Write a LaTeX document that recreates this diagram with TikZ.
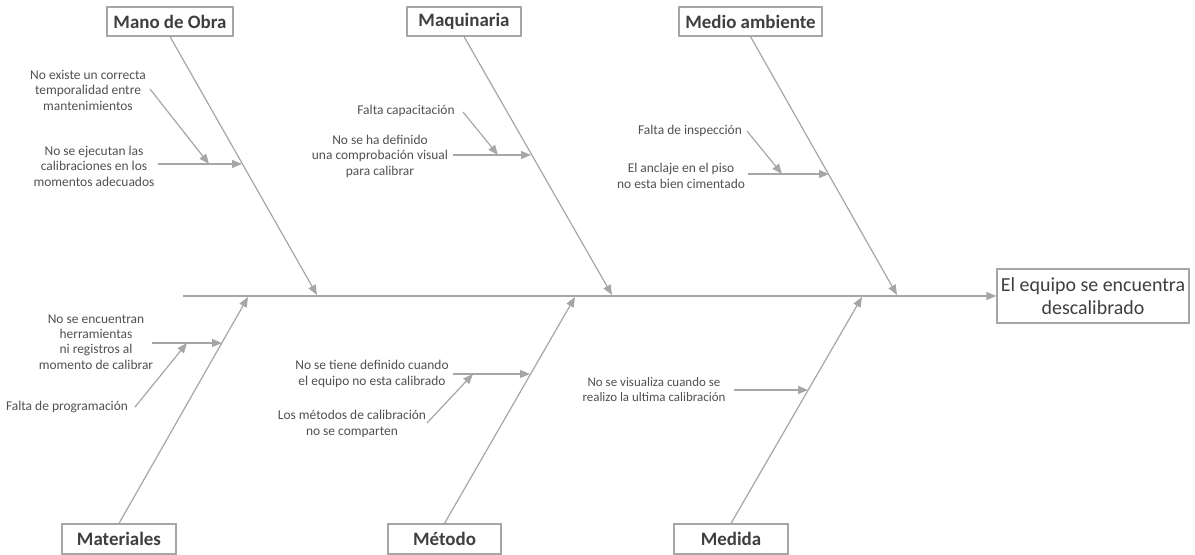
\documentclass[tikz,border=0pt]{standalone}
\usepackage{fontspec}
\setmainfont{Carlito}
\usetikzlibrary{arrows.meta}
\definecolor{bone}{HTML}{A6A6A6}
\definecolor{ink}{HTML}{505050}
\definecolor{headink}{HTML}{3F3F3F}
\tikzset{
  catbox/.style={draw=bone, line width=1.2bp, fill=white, inner sep=0pt,
    text=headink, font=\fontsize{19}{22}\selectfont\bfseries},
  effectbox/.style={catbox, font=\fontsize{20}{23}\selectfont, align=center},
  cause/.style={text=ink, align=center, inner sep=0pt,
    font=\fontsize{13.5}{15.5}\selectfont},
  plaincause/.style={cause, font=\fontsize{13}{15}\selectfont},
  arrowline/.style={draw=bone, line width=1.2bp,
    -{Triangle[length=10bp,width=8bp]}},
}
\begin{document}
\begin{tikzpicture}[x=1bp, y=-1bp]
\useasboundingbox (0,0) rectangle (1195,555);

% effect and spine
\node[effectbox, minimum width=192bp, minimum height=54bp] (effect) at (1093,296)
  {El equipo se encuentra\\descalibrado};
\coordinate (tail) at (183,296);
\draw[arrowline] (tail) -- (effect.west);

% category boxes
\node[catbox, minimum width=126bp, minimum height=29bp] (mano)  at (170,21.5)   {Mano de Obra};
\node[catbox, minimum width=114bp, minimum height=29bp] (maq)   at (464,21.5)   {Maquinaria};
\node[catbox, minimum width=143bp, minimum height=29bp] (medio) at (750.5,21.5) {Medio ambiente};
\node[catbox, minimum width=114bp, minimum height=30bp] (mat)   at (119,539)    {Materiales};
\node[catbox, minimum width=113bp, minimum height=30bp] (met)   at (444.5,539)  {Método};
\node[catbox, minimum width=114bp, minimum height=30bp] (med)   at (731,539)    {Medida};

% points where the main bones meet the spine
\coordinate (jMano)  at (317,295);
\coordinate (jMaq)   at (612,295);
\coordinate (jMedio) at (897,295);
\coordinate (jMat)   at (248,297);
\coordinate (jMet)   at (575,297);
\coordinate (jMed)   at (862,297);

\draw[arrowline] (mano.south)  -- (jMano);
\draw[arrowline] (maq.south)   -- (jMaq);
\draw[arrowline] (medio.south) -- (jMedio);
\draw[arrowline] (mat.north)   -- (jMat);
\draw[arrowline] (met.north)   -- (jMet);
\draw[arrowline] (med.north)   -- (jMed);

% Mano de Obra causes
\node[cause] (c1) at (88,90) {No existe un correcta\\temporalidad entre\\mantenimientos};
\node[cause] (c2) at (94,166) {No se ejecutan las\\calibraciones en los\\momentos adecuados};
\coordinate (c1s) at (150,89);  \coordinate (c1e) at (209,164);
\coordinate (c2s) at (158,164); \coordinate (c2e) at (242,164);
\draw[arrowline] (c1s) -- (c1e);
\draw[arrowline] (c2s) -- (c2e);

% Maquinaria causes
\node[cause] (c3) at (406,111) {Falta capacitación};
\node[cause] (c4) at (380,156) {No se ha definido\\una comprobación visual\\para calibrar};
\coordinate (c3s) at (463,112); \coordinate (c3e) at (498,155);
\coordinate (c4s) at (453,155); \coordinate (c4e) at (531,155);
\draw[arrowline] (c3s) -- (c3e);
\draw[arrowline] (c4s) -- (c4e);

% Medio ambiente causes
\node[cause] (c5) at (690,131) {Falta de inspección};
\node[cause] (c6) at (681,176) {El anclaje en el piso\\no esta bien cimentado};
\coordinate (c5s) at (747,131); \coordinate (c5e) at (782,174);
\coordinate (c6s) at (748,174); \coordinate (c6e) at (829,174);
\draw[arrowline] (c5s) -- (c5e);
\draw[arrowline] (c6s) -- (c6e);

% Materiales causes
\node[cause] (c7) at (96,342) {No se encuentran\\herramientas\\ni registros al\\momento de calibrar};
\node[cause] (c8) at (67,407) {Falta de programación};
\coordinate (c7s) at (152,343); \coordinate (c7e) at (222,343);
\coordinate (c8s) at (135,407); \coordinate (c8e) at (187,343);
\draw[arrowline] (c7s) -- (c7e);
\draw[arrowline] (c8s) -- (c8e);

% Método causes
\node[cause] (c9) at (372,374) {No se tiene definido cuando\\el equipo no esta calibrado};
\node[cause] (c10) at (352,424) {Los métodos de calibración\\no se comparten};
\coordinate (c9s) at (453,374);  \coordinate (c9e) at (530,374);
\coordinate (c10s) at (427,423); \coordinate (c10e) at (473,374);
\draw[arrowline] (c9s) -- (c9e);
\draw[arrowline] (c10s) -- (c10e);

% Medida cause
\node[plaincause] (c11) at (654,390) {No se visualiza cuando se\\realizo la ultima calibración};
\coordinate (c11s) at (734,390); \coordinate (c11e) at (808,390);
\draw[arrowline] (c11s) -- (c11e);
\end{tikzpicture}
\end{document}
